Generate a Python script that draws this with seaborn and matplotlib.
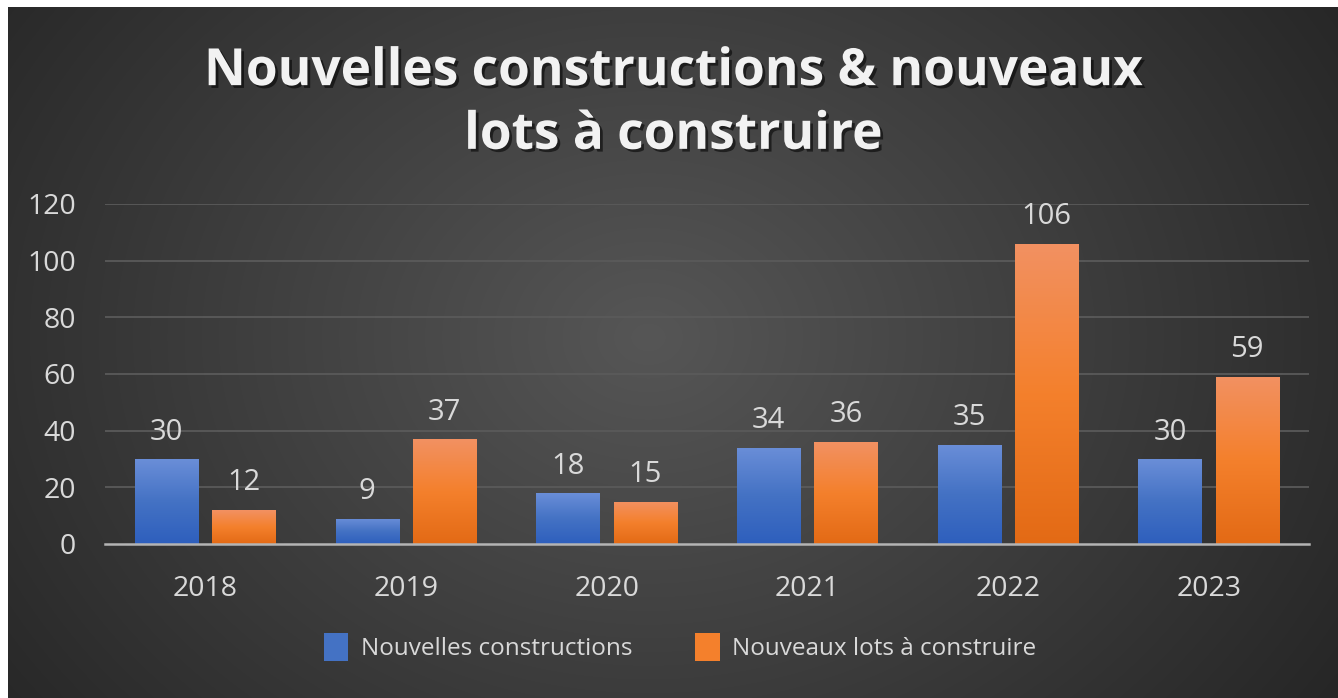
import numpy as np
import pandas as pd
import matplotlib
matplotlib.use("Agg")
import matplotlib.pyplot as plt
import seaborn as sns
from matplotlib import patheffects as pe
from matplotlib.colors import LinearSegmentedColormap, to_rgb
from matplotlib.patches import Patch

# ---------------- data ----------------
years = ["2018", "2019", "2020", "2021", "2022", "2023"]
nouvelles_constructions = [30, 9, 18, 34, 35, 30]
nouveaux_lots = [12, 37, 15, 36, 106, 59]
series_names = ["Nouvelles constructions", "Nouveaux lots à construire"]
title_text = "Nouvelles constructions & nouveaux\nlots à construire"
y_ticks = [0, 20, 40, 60, 80, 100, 120]

df = pd.DataFrame({
    "Année": years * 2,
    "Valeur": nouvelles_constructions + nouveaux_lots,
    "Série": [series_names[0]] * len(years) + [series_names[1]] * len(years),
})

sns.set_theme(style="dark")
plt.rcParams["font.family"] = ["Open Sans", "DejaVu Sans"]

W, H = 1338, 698
fig = plt.figure(figsize=(W / 100, H / 100), dpi=100)
fig.patch.set_facecolor("white")

# ---------------- radial background ----------------
bx0, by0 = 8, 7
bw, bh = W - bx0, H - by0
bg = fig.add_axes([bx0 / W, 0, bw / W, bh / H])
yy, xx = np.mgrid[0:bh, 0:bw]
cx, cy = 640, 330
r = np.sqrt(((xx - cx) / (bw * 0.62)) ** 2 + ((yy - cy) / (bh * 0.95)) ** 2)
r = np.clip(r, 0, 1)
c_in = np.array(to_rgb("#565656"))
c_out = np.array(to_rgb("#262626"))
img = c_in[None, None, :] * (1 - r[..., None]) + c_out[None, None, :] * r[..., None]
bg.imshow(img, aspect="auto", extent=[0, 1, 0, 1], origin="upper")
bg.set_axis_off()

# ---------------- main axes ----------------
ax_left, ax_right = 105, 1309
y_zero, y_top = 544, 204
ax = fig.add_axes([ax_left / W, (H - y_zero) / H, (ax_right - ax_left) / W, (y_zero - y_top) / H])
ax.patch.set_alpha(0)

blue = "#4472c4"
orange = "#f4802c"
sns.barplot(data=df, x="Année", y="Valeur", hue="Série", palette=[blue, orange],
            width=0.77, gap=0.18, ax=ax, legend=False, saturation=1, zorder=3)

blue_cmap = LinearSegmentedColormap.from_list("b", ["#2e5fbd", "#4472c4", "#6a8ed8"])
orange_cmap = LinearSegmentedColormap.from_list("o", ["#e36a15", "#f4802c", "#f29162"])
grad = np.linspace(0, 1, 256)[:, None]

for cont, cmap in zip(ax.containers, [blue_cmap, orange_cmap]):
    for bar in cont:
        x0, y0 = bar.get_x(), bar.get_y()
        bwid, bht = bar.get_width(), bar.get_height()
        im = ax.imshow(grad, cmap=cmap, aspect="auto", origin="lower",
                       extent=[x0, x0 + bwid, y0, y0 + bht], zorder=3.5)
        im.set_clip_path(bar)
        bar.set_edgecolor("none")
    ax.bar_label(cont, padding=9, color="#d9d9d9", fontsize=21)

ax.set_xlim(-0.5, len(years) - 0.5)
ax.set_ylim(0, 120)
ax.set_yticks(y_ticks)
ax.set_yticklabels([str(v) for v in y_ticks])
ax.set_xlabel("")
ax.set_ylabel("")
ax.grid(False)
for v in y_ticks[1:]:
    ax.axhline(v, color="#5a5a5a", lw=1.3, zorder=1)

for s in ["top", "right", "left"]:
    ax.spines[s].set_visible(False)
ax.spines["bottom"].set_color("#b4b4b4")
ax.spines["bottom"].set_linewidth(1.8)
ax.spines["bottom"].set_zorder(5)

ax.tick_params(axis="y", length=0, pad=21, labelsize=20.5, labelcolor="#d9d9d9")
ax.tick_params(axis="x", which="major", length=0, pad=22, labelsize=20.5, labelcolor="#d9d9d9")
ax.set_xticks(np.arange(-0.5, len(years), 1.0), minor=True)
ax.tick_params(axis="x", which="minor", length=10, width=1.8, color="#b4b4b4", direction="out")

# ---------------- title ----------------
fig.text((bx0 + W) / 2 / W, 1 - 104 / H, title_text, ha="center", va="center",
         fontsize=37, fontweight="bold", color="#f2f2f2", linespacing=1.36,
         path_effects=[pe.withSimplePatchShadow(offset=(2, -2), shadow_rgbFace="black", alpha=0.55)])

# ---------------- legend ----------------
handles = [Patch(facecolor=blue, edgecolor="none"), Patch(facecolor=orange, edgecolor="none")]
fig.legend(handles, series_names, loc="center", bbox_to_anchor=(680 / W, 1 - 647 / H),
           ncol=2, frameon=False, fontsize=17.5, labelcolor="#d9d9d9",
           handlelength=1.0, handleheight=1.4, handletextpad=0.5, columnspacing=2.6)

fig.savefig("out.png", dpi=100)
